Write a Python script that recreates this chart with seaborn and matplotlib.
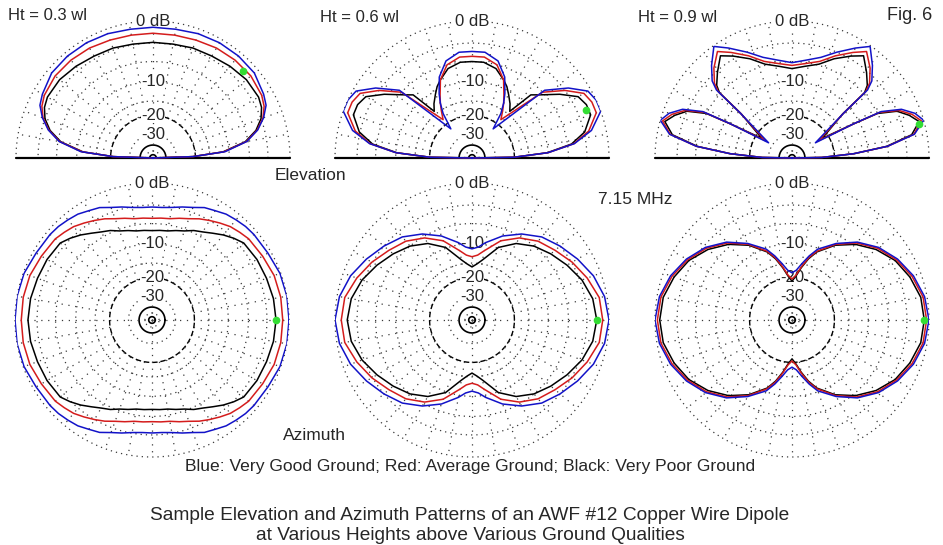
import numpy as np
import matplotlib
matplotlib.use("Agg")
import matplotlib.pyplot as plt
import seaborn as sns

# elevation patterns, angle 0-90 deg (mirrored to 180), dB below the outer ring
el_03_ang = [0, 2, 5, 10, 15, 20, 25, 30, 40, 50, 60, 70, 80, 90]
el_03_blue = [-99, -21.0, -10.9, -6.2, -4.0, -2.6, -1.6, -1.2, -0.6, -0.5, -0.5, -0.6, -0.8, -0.8]
el_03_red = [-99, -21.0, -11.2, -6.3, -4.1, -2.7, -1.9, -1.5, -1.2, -1.2, -1.3, -1.5, -1.6, -1.6]
el_03_black = [-99, -21.0, -11.4, -6.5, -4.3, -3.0, -2.3, -2.0, -2.0, -2.3, -2.6, -2.7, -2.9, -2.9]

el_06_ang_blue = [0, 1, 4, 8, 13, 20, 25, 30, 36, 43, 54, 57, 60, 63, 68, 75, 83, 90]
el_06_blue = [-99, -20.2, -10.0, -4.8, -1.9, 0.0, 0.0, -0.4, -2.4, -5.5, -22.8, -16.2, -13.2, -10.9, -7.7, -5.3, -4.3, -4.3]
el_06_ang_red = [0, 1, 4, 8, 13, 20, 25, 30, 36, 43, 53, 57, 60, 63, 68, 75, 83, 90]
el_06_red = [-99, -20.2, -10.0, -4.9, -2.3, -0.6, -0.6, -1.0, -3.0, -6.0, -17.9, -15.2, -13.2, -11.4, -8.3, -6.0, -5.1, -5.1]
el_06_ang_black = [0, 1, 4, 8, 13, 20, 25, 30, 36, 43, 47, 51, 55, 60, 64, 68, 75, 83, 90]
el_06_black = [-99, -20.2, -10.2, -5.3, -2.9, -1.4, -1.4, -1.9, -4.0, -6.7, -7.9, -14.1, -12.4, -10.7, -9.3, -8.3, -6.7, -6.0, -6.0]

el_09_ang = [0, 1, 4, 7, 11, 16, 20, 24, 27.5, 29, 33, 41, 42, 44, 49, 55, 60, 67, 74, 82, 90]
el_09_blue = [-99, -26.0, -13.5, -6.0, -1.6, 0.0, -0.8, -2.3, -5.3, -11.2, -27.1, -11.7, -5.1, -3.6, -1.9, -0.1, -1.3, -3.0, -4.6, -5.6, -6.2]
el_09_red = [-99, -26.0, -13.5, -6.0, -1.7, -0.3, -1.2, -2.7, -5.6, -11.4, -24.8, -11.9, -5.5, -4.1, -2.4, -0.9, -2.0, -3.6, -5.3, -6.2, -6.7]
el_09_black = [-99, -26.0, -13.5, -6.2, -2.0, -0.6, -1.6, -3.0, -6.0, -11.4, -22.8, -12.2, -5.8, -4.6, -3.2, -1.6, -2.6, -4.1, -5.8, -6.7, -7.3]

# azimuth patterns, angle 0-90 deg from broadside (mirrored to all quadrants)
az_03_ang = [0, 10, 20, 30, 40, 45, 50, 55, 60, 65, 70, 75, 80, 85, 90]
az_03_blue = [0.0, 0.0, -0.1, -0.4, -0.5, -0.6, -0.8, -1.0, -1.4, -1.7, -2.3, -2.7, -3.1, -3.3, -3.3]
az_03_red = [-0.8, -0.8, -0.9, -1.2, -1.4, -1.7, -2.0, -2.5, -3.0, -3.5, -4.1, -4.5, -4.9, -5.0, -5.1]
az_03_black = [-1.7, -1.8, -2.0, -2.1, -2.3, -2.9, -3.6, -4.4, -5.1, -5.6, -6.3, -6.7, -7.1, -7.2, -7.3]

az_06_ang = [0, 10, 20, 30, 40, 50, 60, 70, 80, 85, 90]
az_06_blue = [0.0, -0.3, -1.0, -2.0, -3.0, -4.0, -5.5, -7.3, -9.5, -10.7, -11.2]
az_06_red = [-0.8, -1.0, -1.9, -2.9, -4.0, -4.9, -6.3, -8.3, -11.4, -12.7, -13.2]
az_06_black = [-1.6, -1.9, -2.7, -3.8, -4.9, -6.0, -7.5, -9.8, -13.8, -15.2, -16.2]

az_09_ang = [0, 10, 20, 30, 40, 50, 60, 70, 75, 80, 85, 90]
az_09_blue = [0.0, -0.3, -1.0, -2.0, -3.3, -5.1, -7.5, -10.2, -12.4, -14.9, -17.2, -18.2]
az_09_red = [-0.3, -0.5, -1.2, -2.2, -3.5, -5.3, -7.7, -10.7, -12.9, -15.9, -19.0, -20.6]
az_09_black = [-0.6, -0.8, -1.5, -2.4, -3.8, -5.6, -7.9, -10.9, -13.2, -16.2, -19.4, -21.5]

# cursor (green dot) positions: angle, dB
el_cursor = [(44, -1.5), (23, -1.7), (15, -0.7)]
az_cursor = [(0, -1.7), (0, -1.6), (0, -0.6)]

heights = ["Ht = 0.3 wl", "Ht = 0.6 wl", "Ht = 0.9 wl"]
ring_labels = ["-10", "-20", "-30"]
legend_text = "Blue: Very Good Ground; Red: Average Ground; Black: Very Poor Ground"
title_lines = ["Sample Elevation and Azimuth Patterns of an AWF #12 Copper Wire Dipole",
               "at Various Heights above Various Ground Qualities"]

sns.set_style("white")
plt.rcParams['font.family'] = ['Liberation Sans', 'DejaVu Sans']

W, H = 943, 545
R = 137
el_centers = [(153, 158), (472, 158), (792, 158)]
az_centers = [(152, 320), (472, 320), (792, 320)]
BLUE, RED, BLACK = '#1212c8', '#d41c1c', '#000000'
GRID = '#3a3a3a'


def fwd(db):
    # ARRL log scale
    return 0.89 ** (-np.asarray(db, dtype=float) / 2.0)


def inv(r):
    r = np.clip(np.asarray(r, dtype=float), 1e-12, None)
    return -2.0 * np.log(r) / np.log(0.89)


def mirror_el(ang, val):
    a = np.array(ang, dtype=float)
    v = np.array(val, dtype=float)
    th = np.concatenate([a, 180 - a[::-1]])
    return np.radians(th), np.concatenate([v, v[::-1]])


def mirror_az(ang, val):
    a = np.array(ang, dtype=float)
    v = np.array(val, dtype=float)
    th = np.concatenate([a, 180 - a[::-1], 180 + a, 360 - a[::-1]])
    return np.radians(th), np.concatenate([v, v[::-1], v, v[::-1]])


fig = plt.figure(figsize=(W / 100, H / 100), dpi=100)


def make_ax(cx, cy):
    # full square polar axes; elevation plots only use the upper half
    ax = fig.add_axes([(cx - R) / W, (H - cy - R) / H, 2 * R / W, 2 * R / H], projection='polar')
    ax.patch.set_visible(False)
    return ax


def draw_grid(ax, half):
    tmax = np.pi if half else 2 * np.pi
    th = np.linspace(0, tmax, 500)
    for db in [0, -3, -6, -10, -15, -30, -50]:
        ax.plot(th, np.full_like(th, db), color=GRID, lw=0.9, ls=(0, (1, 3.2)), zorder=1, clip_on=False)
    ax.plot(th, np.full_like(th, -20), color='black', lw=1.0, ls=(0, (4, 2)), zorder=1, clip_on=False)
    for db in [-40, -62]:
        ax.plot(th, np.full_like(th, db), color='black', lw=1.2, zorder=1, clip_on=False)
    last = 181 if half else 360
    for a in range(0, last, 10):
        t = np.radians(a)
        inner = -100 if a % 90 == 0 else -20
        if half and a in (0, 180):
            continue
        ax.plot([t, t], [inner, 0], color=GRID, lw=0.9, ls=(0, (1, 4.5)), zorder=1, clip_on=False)
    if half:
        ax.plot([0, 0], [-100, 0], color='black', lw=1.6, zorder=2, clip_on=False)
        ax.plot([np.pi, np.pi], [-100, 0], color='black', lw=1.6, zorder=2, clip_on=False)
    box = dict(facecolor='white', edgecolor='none', pad=0.3)
    ax.text(np.pi / 2, 0, "0 dB", ha='center', va='center', fontsize=12, bbox=box, zorder=3, clip_on=False)
    for lab, db in zip(ring_labels, [-10, -20, -30]):
        ax.text(np.pi / 2, db, lab, ha='center', va='center', fontsize=12, bbox=box, zorder=3, clip_on=False)


def finish(ax):
    ax.set_rscale('function', functions=(fwd, inv))
    ax.set_rlim(-100, 0)
    ax.set_xticks([])
    ax.set_yticks([])
    ax.grid(False)
    for sp in ax.spines.values():
        sp.set_visible(False)


el_sets = [
    [(el_03_ang, el_03_black), (el_03_ang, el_03_red), (el_03_ang, el_03_blue)],
    [(el_06_ang_black, el_06_black), (el_06_ang_red, el_06_red), (el_06_ang_blue, el_06_blue)],
    [(el_09_ang, el_09_black), (el_09_ang, el_09_red), (el_09_ang, el_09_blue)],
]
az_sets = [
    [(az_03_ang, az_03_black), (az_03_ang, az_03_red), (az_03_ang, az_03_blue)],
    [(az_06_ang, az_06_black), (az_06_ang, az_06_red), (az_06_ang, az_06_blue)],
    [(az_09_ang, az_09_black), (az_09_ang, az_09_red), (az_09_ang, az_09_blue)],
]

for i in range(3):
    # elevation
    ax = make_ax(*el_centers[i])
    draw_grid(ax, True)
    for (ang, val), col in zip(el_sets[i], [BLACK, RED, BLUE]):
        th, v = mirror_el(ang, val)
        sns.lineplot(x=th, y=v, ax=ax, sort=False, estimator=None, color=col, linewidth=1.1, zorder=4)
    ca, cv = el_cursor[i]
    ax.plot([np.radians(ca)], [cv], 'o', color='#33dd33', ms=4.5, zorder=5, clip_on=False)
    finish(ax)

    # azimuth
    ax = make_ax(*az_centers[i])
    draw_grid(ax, False)
    for (ang, val), col in zip(az_sets[i], [BLACK, RED, BLUE]):
        th, v = mirror_az(ang, val)
        sns.lineplot(x=th, y=v, ax=ax, sort=False, estimator=None, color=col, linewidth=1.1, zorder=4)
    ca, cv = az_cursor[i]
    ax.plot([np.radians(ca)], [cv], 'o', color='#33dd33', ms=4.5, zorder=5, clip_on=False)
    finish(ax)


def ftext(x, y, s, ha='left', size=12):
    fig.text(x / W, 1 - y / H, s, ha=ha, va='center', fontsize=size)


ftext(8, 16, heights[0])
ftext(320, 18, heights[1])
ftext(638, 18, heights[2])
ftext(932, 16, "Fig. 6", ha='right', size=13)
ftext(310, 176, "Elevation", ha='center', size=12.5)
ftext(314, 436, "Azimuth", ha='center', size=12.5)
ftext(635, 200, "7.15 MHz", ha='center', size=12.5)
ftext(470, 467, legend_text, ha='center', size=12.6)
ftext(470, 515, title_lines[0], ha='center', size=13.8)
ftext(470, 536, title_lines[1], ha='center', size=13.8)

fig.savefig("out.png", dpi=100, facecolor='white')
